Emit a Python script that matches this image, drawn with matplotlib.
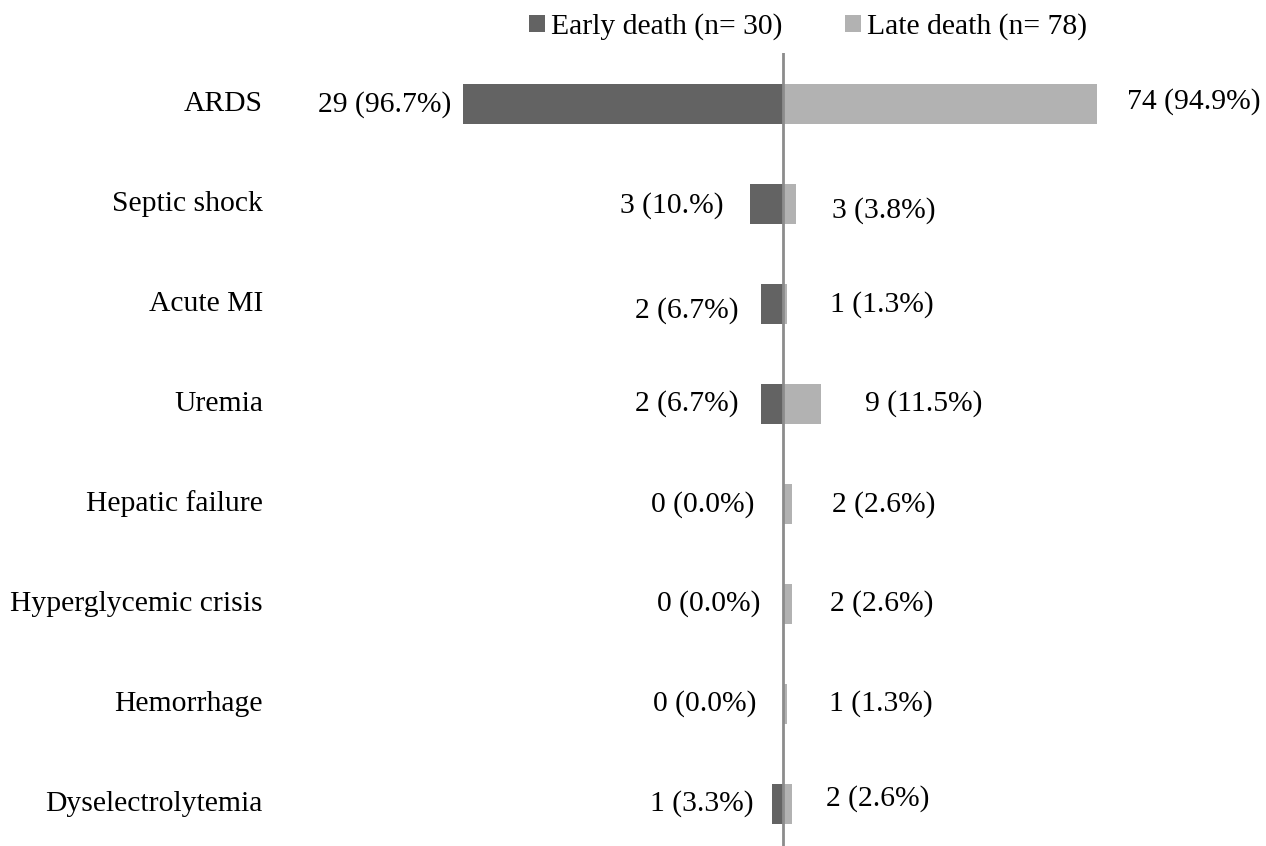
import numpy as np
import matplotlib.pyplot as plt

plt.rcParams['font.family'] = ['Liberation Serif', 'DejaVu Serif']

causes = ['ARDS', 'Septic shock', 'Acute MI', 'Uremia', 'Hepatic failure',
          'Hyperglycemic crisis', 'Hemorrhage', 'Dyselectrolytemia']
early_n = [29, 3, 2, 2, 0, 0, 0, 1]
early_pct = [96.7, 10.0, 6.7, 6.7, 0.0, 0.0, 0.0, 3.3]
early_txt = ['29 (96.7%)', '3 (10.%)', '2 (6.7%)', '2 (6.7%)', '0 (0.0%)',
             '0 (0.0%)', '0 (0.0%)', '1 (3.3%)']
late_n = [74, 3, 1, 9, 2, 2, 1, 2]
late_pct = [94.9, 3.8, 1.3, 11.5, 2.6, 2.6, 1.3, 2.6]
late_txt = ['74 (94.9%)', '3 (3.8%)', '1 (1.3%)', '9 (11.5%)', '2 (2.6%)',
            '2 (2.6%)', '1 (1.3%)', '2 (2.6%)']

# label nudges in pixels (hand placed in the original)
early_dx = [-12, -26, -22, -22, -29, -23, -27, -19]
early_dy = [-1, -2, -7, 0, -1, 0, 0, 0]
late_dx = [30, 36, 43, 44, 40, 38, 42, 34]
late_dy = [2, -7, -1, 0, -1, 0, 0, 5]

dark = '#636363'
light = '#b2b2b2'
fs = 21.3

fig = plt.figure(figsize=(12.66, 8.46), dpi=100)
ax = fig.add_axes([290 / 1266, 0, 1 - 290 / 1266, 793 / 846])

y = np.arange(len(causes))
b1 = ax.barh(y, [-v for v in early_pct], height=0.4, color=dark, label='Early death (n= 30)')
b2 = ax.barh(y, late_pct, height=0.4, color=light, label='Late death (n= 78)')

ax.axvline(0, color='#8c8c8c', lw=2)

for i in range(len(causes)):
    ax.annotate(early_txt[i], (-early_pct[i], y[i]), xytext=(early_dx[i], early_dy[i]),
                textcoords='offset pixels', ha='right', va='center', fontsize=fs)
    ax.annotate(late_txt[i], (late_pct[i], y[i]), xytext=(late_dx[i], late_dy[i]),
                textcoords='offset pixels', ha='left', va='center', fontsize=fs)
    ax.text(-157.2, y[i], causes[i], ha='right', va='center', fontsize=fs,
            transform=ax.transData)

ax.set_xlim(-149, 146)
ax.set_ylim(7.42, -0.51)
ax.set_xticks([])
ax.set_yticks([])
for s in ax.spines.values():
    s.set_visible(False)

fig.legend(handles=[b1, b2], loc='center', bbox_to_anchor=(808 / 1266, 1 - 27 / 846),
           ncol=2, frameon=False, fontsize=fs, handlelength=0.54, handleheight=0.54,
           handletextpad=0.2, columnspacing=2.1, borderpad=0)

fig.savefig('out.png', dpi=100)
